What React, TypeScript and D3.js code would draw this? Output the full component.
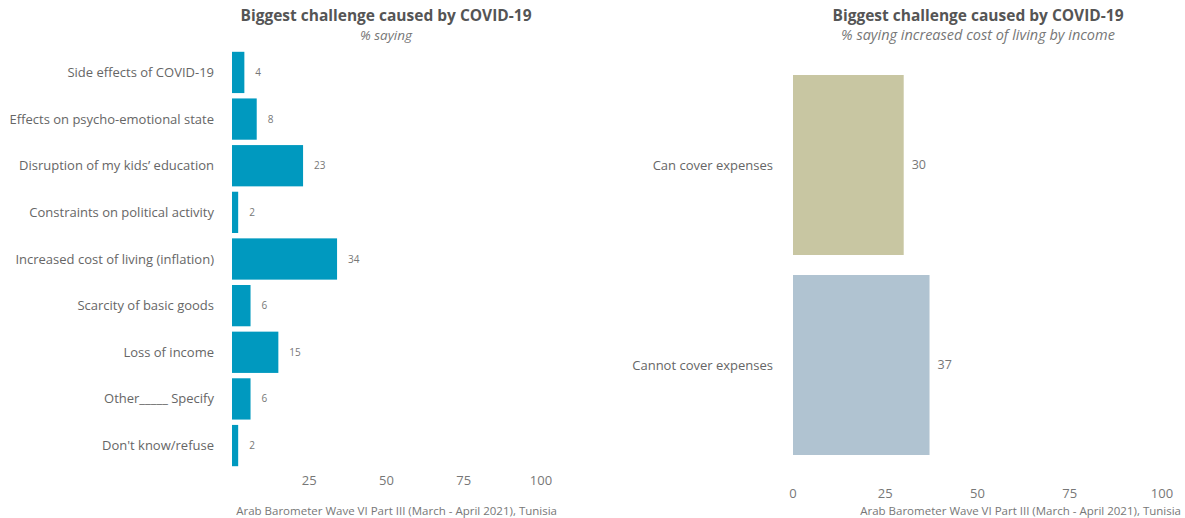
import React from "react";
import * as d3 from "d3";

const leftCategories = [
  "Side effects of COVID-19",
  "Effects on psycho-emotional state",
  "Disruption of my kids’ education",
  "Constraints on political activity",
  "Increased cost of living (inflation)",
  "Scarcity of basic goods",
  "Loss of income",
  "Other_____ Specify",
  "Don't know/refuse",
];
const leftValues = [4, 8, 23, 2, 34, 6, 15, 6, 2];
const leftTicks = [25, 50, 75, 100];

const rightCategories = ["Can cover expenses", "Cannot cover expenses"];
const rightValues = [30, 37];
const rightTicks = [0, 25, 50, 75, 100];

const titleText = "Biggest challenge caused by COVID-19";
const leftSubtitle = "% saying";
const rightSubtitle = "% saying increased cost of living by income";
const caption = "Arab Barometer Wave VI Part III (March - April 2021), Tunisia";

const FONT = "'Open Sans', Lato, sans-serif";
const TXT = "#666666";

export default function App() {
  const W = 1185, H = 518;

  // left panel
  const lx = d3.scaleLinear().domain([0, 100]).range([232, 541]);
  const ly = d3.scaleBand().domain(leftCategories).range([49, 469]).paddingInner(0.115).paddingOuter(0.06);

  // right panel
  const rx = d3.scaleLinear().domain([0, 100]).range([793, 1162]);
  const ry = d3.scaleBand().domain(rightCategories).range([65, 465]).paddingInner(0.1).paddingOuter(0.05);
  const rColors = ["#c8c6a2", "#b0c3d1"];

  return (
    <svg width={W} height={H} style={{ position: "absolute", left: 0, top: 0, background: "#fff" }} fontFamily={FONT}>
      {/* Left titles */}
      <text x={386} y={21} textAnchor="middle" fontSize={15.5} fontWeight={700} fill="#555">{titleText}</text>
      <text x={386} y={40} textAnchor="middle" fontSize={13.5} fontStyle="italic" fill="#777">{leftSubtitle}</text>

      {leftCategories.map((c, i) => {
        const y = ly(c)!;
        const bw = ly.bandwidth();
        return (
          <g key={c}>
            <rect x={lx(0)} y={y} width={lx(leftValues[i]) - lx(0)} height={bw} fill="#0099bf" />
            <text x={lx(leftValues[i]) + 11} y={y + bw / 2} dy="0.35em" fontSize={10} fill="#777">{leftValues[i]}</text>
            <text x={214} y={y + bw / 2} dy="0.35em" textAnchor="end" fontSize={13} fill={TXT}>{c}</text>
          </g>
        );
      })}
      {leftTicks.map((t) => (
        <text key={t} x={lx(t)} y={485} textAnchor="middle" fontSize={13} fill="#777">{t}</text>
      ))}
      <text x={557} y={515} textAnchor="end" fontSize={11.5} fill="#777">{caption}</text>

      {/* Right titles */}
      <text x={978} y={21} textAnchor="middle" fontSize={15.5} fontWeight={700} fill="#555">{titleText}</text>
      <text x={978} y={40} textAnchor="middle" fontSize={14.5} fontStyle="italic" fill="#777">{rightSubtitle}</text>

      {rightCategories.map((c, i) => {
        const y = ry(c)!;
        const bw = ry.bandwidth();
        return (
          <g key={c}>
            <rect x={rx(0)} y={y} width={rx(rightValues[i]) - rx(0)} height={bw} fill={rColors[i]} />
            <text x={rx(rightValues[i]) + 8} y={y + bw / 2} dy="0.35em" fontSize={12.5} fill="#777">{rightValues[i]}</text>
            <text x={773} y={y + bw / 2} dy="0.35em" textAnchor="end" fontSize={13} fill={TXT}>{c}</text>
          </g>
        );
      })}
      {rightTicks.map((t) => (
        <text key={t} x={rx(t)} y={498} textAnchor="middle" fontSize={13} fill="#777">{t}</text>
      ))}
      <text x={1181} y={515} textAnchor="end" fontSize={11.5} fill="#777">{caption}</text>
    </svg>
  );
}
